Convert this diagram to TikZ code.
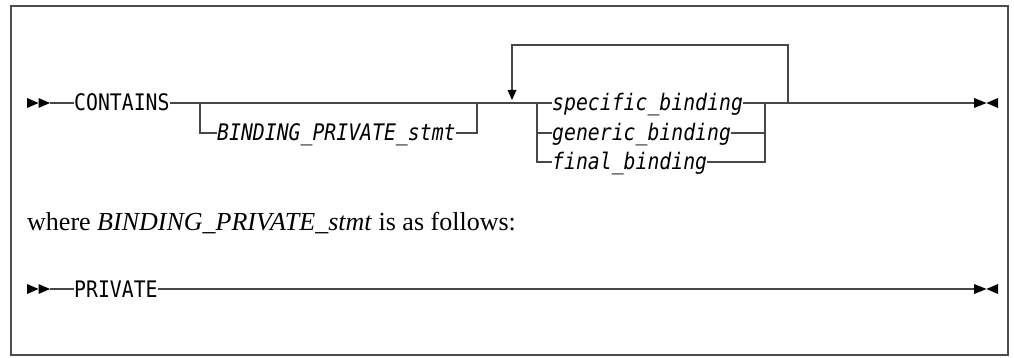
\documentclass[tikz,border=0pt]{standalone}
\usepackage{fontspec}
\newfontfamily\rrmono{DejaVu Sans Mono}
\newfontfamily\rrserif{Liberation Serif}
\newcommand{\rrtxt}[1]{\scalebox{1}[1.15]{#1}}
\begin{document}
\begin{tikzpicture}[x=1pt,y=-1pt,
  rr/.style={draw=black!72, line width=1.3pt},
  lbl/.style={inner sep=0pt, text height=16pt, text depth=0pt, anchor=west,
    font=\rrmono\fontsize{19.8}{20}\selectfont},
  ilbl/.style={lbl, font=\rrmono\itshape\fontsize{19.8}{20}\selectfont},
  startmark/.pic={
    \fill[black] (0,-5) -- (11.5,0) -- (0,5) -- cycle;
    \fill[black] (11.5,-5) -- (23,0) -- (11.5,5) -- cycle;},
  endmark/.pic={
    \fill[black] (0,-5) -- (12.5,0) -- (0,5) -- cycle;
    \fill[black] (24,-5) -- (12.5,0) -- (24,5) -- cycle;}]
\useasboundingbox (0,0) rectangle (1014,358);
\draw[black!70, line width=1.5pt] (11,6) rectangle (1008,355);

% ---- first diagram
\pic at (27,103) {startmark};
\coordinate (s1) at (50,103);
\node[lbl] (contains) at (74,103) {\rrtxt{CONTAINS}};
\coordinate (j1) at (200,103);
\coordinate (j2) at (477,103);
\coordinate (j3) at (537,103);
\coordinate (j4) at (765,103);
\coordinate (j5) at (788,103);
\coordinate (e1) at (974,103);
\pic at (e1) {endmark};
\node[ilbl] (bind) at (217,133) {\rrtxt{BINDING\_PRIVATE\_stmt}};
\node[ilbl] (spec) at (552,103) {\rrtxt{specific\_binding}};
\node[ilbl] (gen)  at (552,133) {\rrtxt{generic\_binding}};
\node[ilbl] (fin)  at (552,162) {\rrtxt{final\_binding}};
\coordinate (lt) at (788,45);
\coordinate (la) at (512,45);
\coordinate (lb) at (512,90);

\draw[rr] (s1) -- (contains.west);
\draw[rr] (contains.east) -- (j1) -- (j2) -- (j3) -- (spec.west);
\draw[rr] (spec.east) -- (j4) -- (j5) -- (e1);
\draw[rr] (j1) |- (bind.west);
\draw[rr] (bind.east) -| (j2);
\draw[rr] (j3) |- (fin.west);
\draw[rr] (gen.west -| j3) -- (gen.west);
\draw[rr] (gen.east) -- (gen.east -| j4);
\draw[rr] (fin.east) -| (j4);
\draw[rr] (j5) -- (lt) -- (la) -- (lb);
\fill[black] (507.5,90) -- (516.5,90) -- (512,100) -- cycle;

% ---- text
\node[anchor=base west, inner sep=0pt, font=\rrserif\fontsize{26}{30}\selectfont] (where) at (27,230)
  {where \textit{BINDING\_PRIVATE\_stmt} is as follows:};

% ---- second diagram
\pic at (27,289) {startmark};
\coordinate (s2) at (50,289);
\node[lbl] (private) at (74,289) {\rrtxt{PRIVATE}};
\coordinate (e2) at (974,289);
\pic at (e2) {endmark};
\draw[rr] (s2) -- (private.west);
\draw[rr] (private.east) -- (e2);
\end{tikzpicture}
\end{document}
